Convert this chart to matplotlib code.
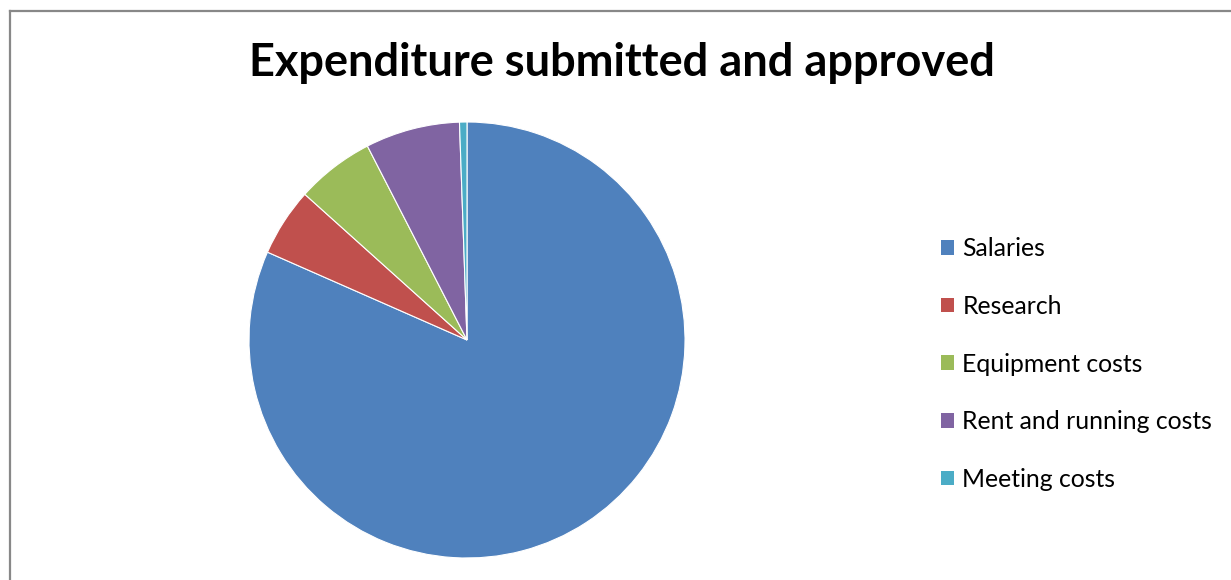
import matplotlib
matplotlib.use('Agg')
import matplotlib.pyplot as plt
from matplotlib.lines import Line2D

categorias = ['Salaries', 'Research', 'Equipment costs', 'Rent and running costs', 'Meeting costs']
valores = [81.6, 5.05, 5.8, 7.0, 0.55]
colores = ['#4F81BD', '#C0504D', '#9BBB59', '#8064A2', '#4BACC6']

W, H = 1231, 580
fig = plt.figure(figsize=(W / 100, H / 100), dpi=100)
fig.patch.set_facecolor('white')

# borde gris del area del grafico
fig.add_artist(Line2D([10 / W, 10 / W], [0, 1 - 11 / H], color='#888888', lw=1.6))
fig.add_artist(Line2D([10 / W, 1], [1 - 11 / H, 1 - 11 / H], color='#888888', lw=1.6))

# pastel: centro (467, 340), radio 218 px
cx, cy, r = 467, 340, 218
ax = fig.add_axes([(cx - r) / W, (H - cy - r) / H, 2 * r / W, 2 * r / H])
wedges, _ = ax.pie(valores, colors=colores, startangle=90, counterclock=False,
                   wedgeprops=dict(edgecolor='white', linewidth=0.8))
ax.set_xlim(-1, 1)
ax.set_ylim(-1, 1)
ax.set_aspect('equal')
ax.axis('off')

fig.text(622 / W, 1 - 63 / H, 'Expenditure submitted and approved',
         ha='center', va='center', fontsize=32.5, fontweight='bold',
         family='Lato', color='black')

leg = fig.legend(wedges, categorias, loc='center left',
                 bbox_to_anchor=(941 / W, 1 - 364 / H), frameon=False,
                 prop=dict(family='Lato', size=17.8),
                 borderaxespad=0, borderpad=0,
                 handlelength=0.53, handleheight=0.53, handletextpad=0.33,
                 labelspacing=1.4)
for h in leg.legend_handles:
    h.set_edgecolor('none')

plt.savefig('out.png', dpi=100)
plt.close()
